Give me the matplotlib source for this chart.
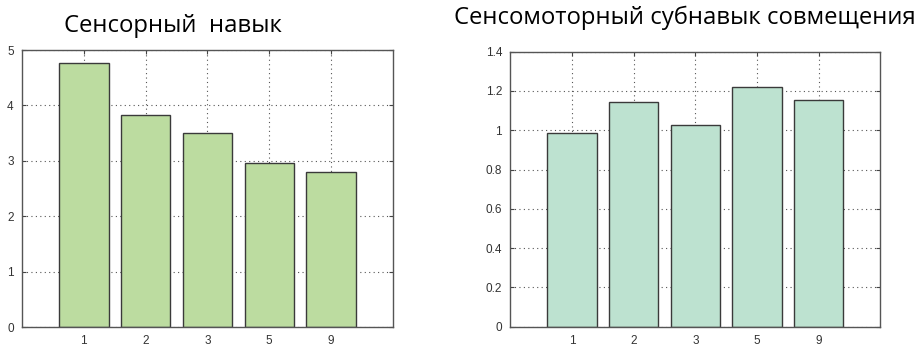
import matplotlib
matplotlib.use("Agg")
import matplotlib.pyplot as plt
from matplotlib.ticker import FormatStrFormatter

plt.rcParams["font.family"] = ["Open Sans", "DejaVu Sans"]

# shared x categories
categories = ["1", "2", "3", "5", "9"]

sensory_title = "Сенсорный  навык"
sensory_values = [4.76, 3.83, 3.50, 2.97, 2.79]
sensory_ticks = [0, 1, 2, 3, 4, 5]

combo_title = "Сенсомоторный субнавык совмещения"
combo_values = [0.988, 1.143, 1.027, 1.219, 1.153]
combo_ticks = [0, 0.2, 0.4, 0.6, 0.8, 1.0, 1.2, 1.4]

EDGE = "#3a3a3a"


def draw_panel(ax, values, yticks, color):
    pos = list(range(1, len(categories) + 1))
    ax.bar(pos, values, width=0.8, color=color, edgecolor=EDGE,
           linewidth=1.0, zorder=3)
    ax.set_xlim(0, len(categories) + 1)
    ax.set_ylim(yticks[0], yticks[-1])
    ax.set_xticks(pos)
    ax.set_xticklabels(categories)
    ax.set_yticks(yticks)
    ax.yaxis.set_major_formatter(FormatStrFormatter("%g"))
    ax.grid(True, linestyle=(0, (1, 3)), color="#555555", linewidth=0.8,
            zorder=1)
    ax.tick_params(direction="in", length=3, top=True, right=True,
                   labelsize=8.5, colors="#444444", labelcolor="#333333",
                   pad=6)
    for lbl in ax.get_xticklabels() + ax.get_yticklabels():
        lbl.set_family("Liberation Sans")
    for s in ax.spines.values():
        s.set_color("#555555")
        s.set_linewidth(1.0)
        s.set_zorder(4)


fig = plt.figure(figsize=(9.18, 3.47), dpi=100)
ax1 = fig.add_axes([0.024, 0.0576, 0.404, 0.798])
ax2 = fig.add_axes([0.556, 0.0585, 0.403, 0.7925])

draw_panel(ax1, sensory_values, sensory_ticks, "#bcdca0")
draw_panel(ax2, combo_values, combo_ticks, "#bde2d0")

fig.text(0.188, 0.925, sensory_title, ha="center", va="center",
         fontsize=17.2, color="#000000")
fig.text(0.7455, 0.948, combo_title, ha="center", va="center",
         fontsize=17.2, color="#000000")

fig.savefig("out.png", dpi=100)
